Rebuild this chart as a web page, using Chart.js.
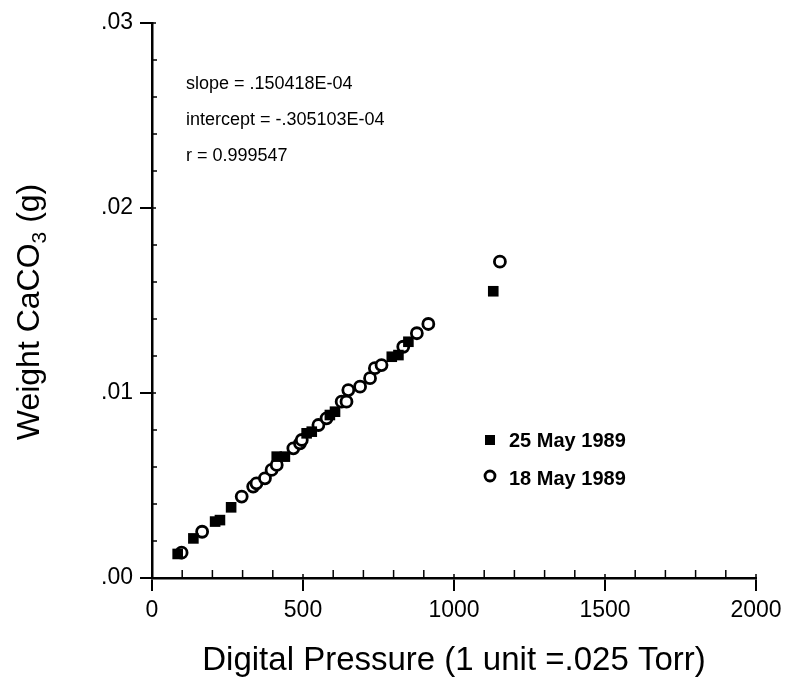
<!DOCTYPE html>
<html>
<head>
<meta charset="utf-8">
<script src="https://cdn.jsdelivr.net/npm/chart.js"></script>
<style>
  html, body { margin: 0; padding: 0; background: #fff; }
  #wrap { width: 788px; height: 690px; }
</style>
</head>
<body>
<div id="wrap"><canvas id="chart" width="788" height="690"></canvas></div>
<script>
// 25 May 1989 (filled squares)
const mayX25 = [85, 137, 209, 225, 262, 413, 440, 512, 529, 589, 606, 794, 816, 849, 1130];
const mayY25 = [.0013, .00214, .00305, .00313, .00382, .00656, .00656, .00782, .00791, .00881, .00899, .01196, .01205, .01277, .0155];

// 18 May 1989 (open circles)
const mayX18 = [98, 166, 297, 335, 346, 374, 396, 413, 468, 490, 496, 551, 578, 628, 644, 650, 689, 722, 738, 760, 832, 877, 915, 1152];
const mayY18 = [.00137, .0025, .0044, .00494, .00512, .00539, .00584, .00611, .00701, .00728, .00746, .00827, .00863, .00953, .00953, .01016, .01034, .0108, .01134, .01151, .0125, .01323, .01373, .0171];

const seriesLabels = ['25 May 1989', '18 May 1989'];
const fitLines = ['slope = .150418E-04', 'intercept = -.305103E-04', 'r = 0.999547'];

const xTicks = [0, 500, 1000, 1500, 2000];
const yTicks = [0, .01, .02, .03];

const FONT = '"Liberation Sans", Arial, Helvetica, sans-serif';

function toPoints(xs, ys) {
    return xs.map((x, i) => ({ x: x, y: ys[i] }));
}

// minor ticks on the inside of both axes
const minorTicks = {
    id: 'minorTicks',
    afterDraw(chart) {
        const ctx = chart.ctx;
        const xs = chart.scales.x, ys = chart.scales.y;
        const a = chart.chartArea;
        ctx.save();
        ctx.strokeStyle = '#000';
        ctx.lineWidth = 1.5;
        ctx.beginPath();
        for (let v = 100; v < 2000; v += 100) {
            if (v % 500 === 0) continue;
            const px = xs.getPixelForValue(v);
            ctx.moveTo(px, a.bottom);
            ctx.lineTo(px, a.bottom - 8);
        }
        for (let k = 1; k < 15; k++) {
            if (k % 5 === 0) continue;
            const py = ys.getPixelForValue(k * .002);
            ctx.moveTo(a.left, py);
            ctx.lineTo(a.left + 5, py);
        }
        // major ticks poke slightly inside too
        xTicks.forEach(v => {
            const px = xs.getPixelForValue(v);
            ctx.moveTo(px, a.bottom);
            ctx.lineTo(px, a.bottom - 4);
        });
        yTicks.forEach(v => {
            const py = ys.getPixelForValue(v);
            ctx.moveTo(a.left, py);
            ctx.lineTo(a.left + 4, py);
        });
        ctx.stroke();
        ctx.restore();
    }
};

// fit text, legend and y title with subscript
const annotations = {
    id: 'annotations',
    afterDraw(chart) {
        const ctx = chart.ctx;
        ctx.save();
        ctx.fillStyle = '#000';
        ctx.textBaseline = 'middle';
        ctx.font = '18px ' + FONT;
        fitLines.forEach((t, i) => ctx.fillText(t, 186, 84 + i * 36));

        // legend
        ctx.font = 'bold 20px ' + FONT;
        ctx.fillRect(485, 435, 10, 10);
        ctx.fillText(seriesLabels[0], 509, 441);
        ctx.beginPath();
        ctx.lineWidth = 2.8;
        ctx.strokeStyle = '#000';
        ctx.arc(490, 476, 5, 0, Math.PI * 2);
        ctx.stroke();
        ctx.fillText(seriesLabels[1], 509, 479);

        // y title
        ctx.translate(30, 312);
        ctx.rotate(-Math.PI / 2);
        ctx.textAlign = 'left';
        ctx.textBaseline = 'middle';
        const big = '32px ' + FONT, small = '21px ' + FONT;
        ctx.font = big;
        const p1 = 'Weight CaCO', p3 = ' (g)';
        const w1 = ctx.measureText(p1).width, w3 = ctx.measureText(p3).width;
        ctx.font = small;
        const w2 = ctx.measureText('3').width;
        let x = -(w1 + w2 + w3) / 2;
        ctx.font = big;
        ctx.fillText(p1, x, 0);
        x += w1;
        ctx.font = small;
        ctx.fillText('3', x, 10);
        x += w2;
        ctx.font = big;
        ctx.fillText(p3, x, 0);
        ctx.restore();
    }
};

new Chart(document.getElementById('chart'), {
    type: 'scatter',
    data: {
        datasets: [{
            label: seriesLabels[0],
            data: toPoints(mayX25, mayY25),
            pointStyle: 'rect',
            pointRadius: 7.5,
            backgroundColor: '#000',
            borderColor: '#000',
            borderWidth: 0
        }, {
            label: seriesLabels[1],
            data: toPoints(mayX18, mayY18),
            pointStyle: 'circle',
            pointRadius: 5.5,
            backgroundColor: '#fff',
            borderColor: '#000',
            borderWidth: 2.8
        }]
    },
    options: {
        responsive: false,
        animation: false,
        layout: { padding: { left: 0, right: 32, top: 23, bottom: 0 } },
        plugins: {
            legend: { display: false },
            tooltip: { enabled: false }
        },
        scales: {
            x: {
                type: 'linear',
                min: 0,
                max: 2000,
                afterBuildTicks: s => { s.ticks = xTicks.map(v => ({ value: v })); },
                afterFit: s => { s.height = 112; },
                grid: { drawOnChartArea: false, tickLength: 13, color: '#000', lineWidth: 2 },
                border: { color: '#000', width: 2.5 },
                ticks: {
                    color: '#000',
                    font: { family: FONT, size: 23 },
                    padding: 6,
                    maxRotation: 0,
                    callback: v => String(v)
                },
                title: {
                    display: true,
                    text: 'Digital Pressure (1 unit =.025 Torr)',
                    color: '#000',
                    font: { family: FONT, size: 33 },
                    padding: { top: 4, bottom: 9 }
                }
            },
            y: {
                type: 'linear',
                min: 0,
                max: .03,
                afterBuildTicks: s => { s.ticks = yTicks.map(v => ({ value: v })); },
                afterFit: s => { s.width = 152; },
                grid: { drawOnChartArea: false, tickLength: 12, color: '#000', lineWidth: 2 },
                border: { color: '#000', width: 2.5 },
                ticks: {
                    color: '#000',
                    font: { family: FONT, size: 23 },
                    padding: 7,
                    callback: v => v.toFixed(2).replace(/^0/, '')
                }
            }
        }
    },
    plugins: [minorTicks, annotations]
});
</script>
</body>
</html>
